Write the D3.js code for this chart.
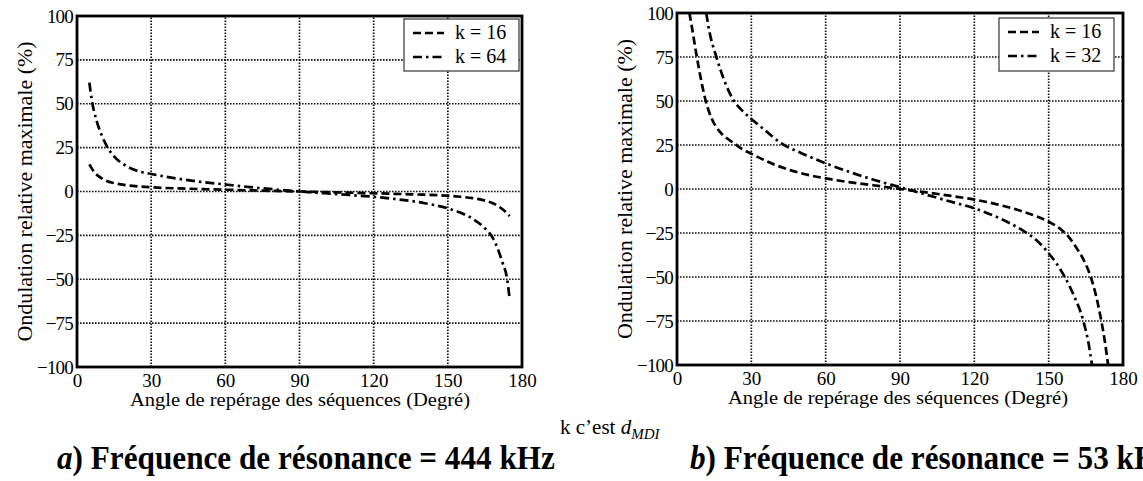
<!DOCTYPE html>
<html><head><meta charset="utf-8">
<script src="https://cdn.jsdelivr.net/npm/d3@7"></script>
<style>
html,body{margin:0;padding:0;background:#fff;}
svg{display:block;}
</style></head>
<body>
<svg id="chart" width="1143" height="481"></svg>
<script>
// ---- data ----
const xTicks = [0, 30, 60, 90, 120, 150, 180];
const yTicks = [-100, -75, -50, -25, 0, 25, 50, 75, 100];
const xTitle = "Angle de repérage des séquences (Degré)";
const yTitle = "Ondulation relative maximale (%)";
const note = "k c’est ";
const captionA = ["a", ") Fréquence de résonance = 444 kHz"];
const captionB = ["b", ") Fréquence de résonance = 53 kHz"];

// Panel a) 444 kHz
const aLabels = ["k = 16", "k = 64"];
const a16X = [5, 7, 10, 12, 15, 20, 25, 30, 45, 60, 75, 90, 105, 120, 135, 150, 155, 160, 165, 168, 170, 172, 174, 175];
const a16Y = [15.5, 11, 7.5, 6, 4.8, 3.6, 2.9, 2.4, 1.6, 1.0, 0.5, 0, -0.5, -1.0, -1.6, -2.4, -3.0, -3.8, -5.2, -6.6, -8, -10, -12.5, -14];
const a64X = [5, 6, 8, 10, 12, 15, 20, 25, 30, 40, 50, 60, 70, 80, 90, 100, 110, 120, 130, 140, 150, 155, 160, 165, 168, 170, 172, 174, 175];
const a64Y = [62, 52, 40, 32, 26, 20, 14.5, 11.5, 10, 7.5, 5.5, 4, 2.5, 1.2, 0, -1, -2, -3, -4.5, -6.5, -9.6, -12, -15.5, -21, -26, -32, -40, -50, -61];

// Panel b) 53 kHz
const bLabels = ["k = 16", "k = 32"];
const b16X = [5, 6, 8, 10, 11.6, 14, 17, 20, 23, 26, 30, 40, 50, 60, 70, 80, 90, 100, 110, 120, 130, 140, 150, 155, 158, 161, 164, 167, 169, 171, 172.5, 174];
const b16Y = [100, 92, 75, 60, 50, 40, 33, 29, 26, 23, 20, 13.5, 9, 6, 3.8, 2, 0, -1.8, -3.8, -6, -9, -13, -18.6, -23, -27, -33, -40, -50, -60, -73, -85, -100];
const b32X = [11.8, 13, 15.9, 19, 23, 26, 29, 35, 42, 50, 60, 70, 80, 90, 100, 110, 120, 130, 140, 145, 150, 153, 156.5, 160, 164, 166, 167.5];
const b32Y = [100, 90, 75, 62, 50, 45, 41, 34, 26, 20.5, 14.6, 9.5, 5, 1, -3, -7, -11, -16.5, -24, -29, -36.5, -42, -50, -60, -75, -87, -100];

// ---- drawing ----
const FONT = "Liberation Serif";
const svg = d3.select("#chart").style("font-family", FONT);
const dashStyles = ["8,4", "9,4,2.5,4"];

const panels = [
  {id: "a", xr: [77, 522], yr: [367, 16], ytx: 26, legend: {x: 404, y: 19, w: 115, h: 52},
   labels: aLabels, series: [[a16X, a16Y], [a64X, a64Y]], xTitleX: 300, xTitleY: 406},
  {id: "b", xr: [677, 1123], yr: [365, 13], ytx: 626, legend: {x: 999, y: 18, w: 115, h: 53},
   labels: bLabels, series: [[b16X, b16Y], [b32X, b32Y]], xTitleX: 898, xTitleY: 404}
];

panels.forEach(p => {
  const x = d3.scaleLinear().domain([0, 180]).range(p.xr);
  const y = d3.scaleLinear().domain([-100, 100]).range(p.yr);
  const g = svg.append("g");

  svg.append("clipPath").attr("id", "clip" + p.id)
    .append("rect").attr("x", p.xr[0]).attr("y", p.yr[1])
    .attr("width", p.xr[1] - p.xr[0]).attr("height", p.yr[0] - p.yr[1]);

  // grid
  g.selectAll(".vg").data(xTicks.filter(d => d > 0 && d < 180)).join("line")
    .attr("x1", d => x(d)).attr("x2", d => x(d)).attr("y1", p.yr[0]).attr("y2", p.yr[1])
    .attr("stroke", "#111").attr("stroke-width", 1.7).attr("stroke-dasharray", "1.6,1.4");
  g.selectAll(".hg").data(yTicks.filter(d => d > -100 && d < 100)).join("line")
    .attr("y1", d => y(d)).attr("y2", d => y(d)).attr("x1", p.xr[0]).attr("x2", p.xr[1])
    .attr("stroke", "#111").attr("stroke-width", 1.7).attr("stroke-dasharray", "1.6,1.4");

  // series
  const line = d3.line().x(d => x(d[0])).y(d => y(d[1])).curve(d3.curveMonotoneX);
  p.series.forEach((s, i) => {
    const pts = s[0].map((v, k) => [v, s[1][k]]);
    g.append("path").datum(pts).attr("d", line)
      .attr("clip-path", "url(#clip" + p.id + ")")
      .attr("fill", "none").attr("stroke", "#000").attr("stroke-width", 2.7)
      .attr("stroke-dasharray", dashStyles[i]);
  });

  // frame
  g.append("rect").attr("x", p.xr[0]).attr("y", p.yr[1])
    .attr("width", p.xr[1] - p.xr[0]).attr("height", p.yr[0] - p.yr[1])
    .attr("fill", "none").attr("stroke", "#000").attr("stroke-width", 2.8);

  // axes (labels only)
  const xAxis = g.append("g").attr("transform", `translate(0,${p.yr[0]})`)
    .call(d3.axisBottom(x).tickValues(xTicks).tickSize(0).tickPadding(7));
  xAxis.attr("font-family", null).style("font-family", FONT);
  xAxis.select(".domain").remove();
  xAxis.selectAll("text").style("font-family", FONT).style("font-size", "19px").attr("fill", "#000");
  const yAxis = g.append("g").attr("transform", `translate(${p.xr[0]},0)`)
    .call(d3.axisLeft(y).tickValues(yTicks).tickSize(0).tickPadding(4));
  yAxis.attr("font-family", null).style("font-family", FONT);
  yAxis.select(".domain").remove();
  yAxis.selectAll("text").style("font-family", FONT).style("font-size", "19px").attr("fill", "#000")
    .attr("letter-spacing", -0.8);

  // titles
  g.append("text").attr("x", p.xTitleX).attr("y", p.xTitleY).attr("text-anchor", "middle")
    .style("font-family", FONT).style("font-size", "18px")
    .attr("textLength", 340).attr("lengthAdjust", "spacingAndGlyphs")
    .text(xTitle);
  g.append("text").attr("transform", `translate(${p.ytx + 6},${(p.yr[0] + p.yr[1]) / 2}) rotate(-90)`)
    .attr("text-anchor", "middle").style("font-family", FONT).style("font-size", "20px")
    .attr("textLength", 300).attr("lengthAdjust", "spacingAndGlyphs")
    .text(yTitle);

  // legend
  const L = p.legend;
  const lg = g.append("g");
  lg.append("rect").attr("x", L.x).attr("y", L.y).attr("width", L.w).attr("height", L.h)
    .attr("fill", "#fff").attr("stroke", "#333").attr("stroke-width", 1.2);
  p.labels.forEach((lab, i) => {
    const ly = L.y + 14 + i * 24;
    lg.append("line").attr("x1", L.x + 9).attr("x2", L.x + 40).attr("y1", ly).attr("y2", ly)
      .attr("stroke", "#000").attr("stroke-width", 2.7).attr("stroke-dasharray", dashStyles[i]);
    lg.append("text").attr("x", L.x + 51).attr("y", ly + 6).style("font-family", FONT)
      .style("font-size", "20px").text(lab);
  });
});

// note
const nt = svg.append("text").attr("x", 560).attr("y", 434).style("font-family", FONT).style("font-size", "21px");
nt.append("tspan").text(note);
nt.append("tspan").attr("font-style", "italic").text("d");
nt.append("tspan").attr("font-style", "italic").style("font-size", "15px").attr("dy", 5).text("MDI");

// captions (the reference crops the right-hand caption at the page edge)
[[captionA, 57, 498], [captionB, 690, 482]].forEach(([c, cx, len]) => {
  const t = svg.append("text").attr("x", cx).attr("y", 469).style("font-family", FONT)
    .style("font-size", "33px").attr("font-weight", "bold")
    .attr("textLength", len).attr("lengthAdjust", "spacingAndGlyphs");
  t.append("tspan").attr("font-style", "italic").text(c[0]);
  t.append("tspan").text(c[1]);
});
</script>
</body></html>
